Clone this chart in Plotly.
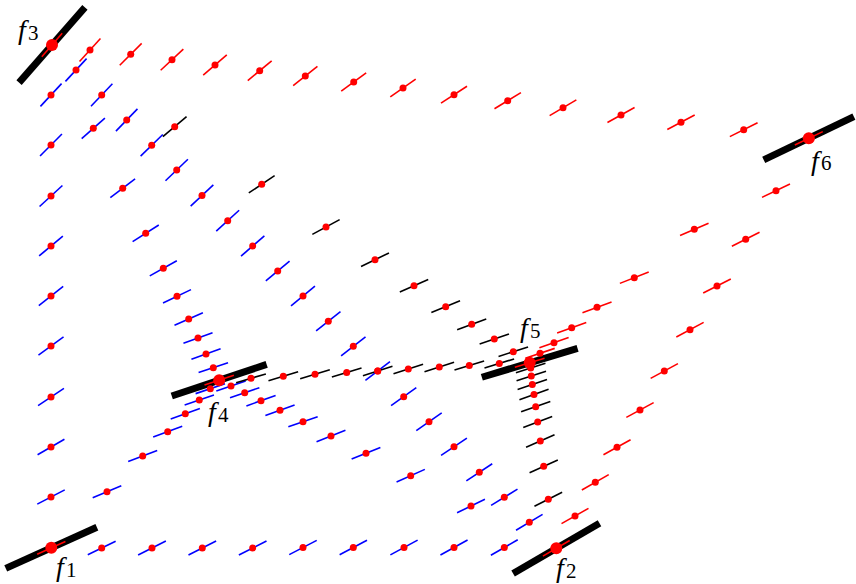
import math
import plotly.graph_objects as go

# ---------------- data (positions in plot units, angles in degrees) ----------------
BOTTOM_X = [101.7, 152, 202.3, 252.7, 303, 353.3, 404, 454, 504.3]
BOTTOM_Y = [548, 548, 548, 548, 547.5, 547.5, 547.5, 547.5, 547.5]
BOTTOM_A = [26, 26.5, 27, 27, 27.5, 28, 28.5, 29, 30]

LEFT_X = [51, 51, 51, 51, 51, 51, 51, 51, 51]
LEFT_Y = [497, 447, 397, 346, 296, 246, 196, 145, 95]
LEFT_A = [27.5, 30, 33.5, 36, 38, 40, 42.5, 45, 47]

TOP_X = [90, 130.7, 172, 215, 259.7, 305.3, 353.7, 403, 454, 507.7, 563, 621, 681, 743.7]
TOP_Y = [50, 54.3, 59.7, 65, 70.7, 76, 82, 88, 94.7, 100.7, 107.7, 115, 122.3, 129.7]
TOP_A = [47.5, 45, 43, 40.5, 39.5, 38.5, 36.5, 35, 33, 31.5, 30.5, 29, 28, 26.5]

RIGHT_OUT_X = [776, 745.7, 717, 690, 664.3, 640, 617, 595.3, 575]
RIGHT_OUT_Y = [190.7, 239.3, 286, 329.7, 371, 410, 447.3, 482.3, 516]
RIGHT_OUT_A = [25.5, 26.8, 27.1, 28.3, 28.3, 28.3, 29, 29.9, 29.5]

RIGHT_IN_X = [694.3, 634.3, 597, 571.7, 554, 540]
RIGHT_IN_Y = [229.3, 277.7, 307.3, 327.7, 342.7, 353.3]
RIGHT_IN_A = [23.2, 21.5, 20.2, 20, 19.5, 18.5]

BLACK_ROW_X = [251, 283.3, 315, 346.7, 377.7, 408.3, 439.3, 469.3, 499.3]
BLACK_ROW_Y = [378.3, 376.2, 374.3, 372.5, 371, 369, 367, 365.5, 363.5]
BLACK_ROW_A = [16.5, 17, 17, 17, 17.5, 17.5, 17.5, 17.2, 17.2]

BLACK_DIAG_X = [174.7, 261.7, 326, 375, 414, 445.7, 471.7, 494.3, 513.3]
BLACK_DIAG_Y = [126.7, 184.3, 227, 259.7, 285.7, 306.7, 324.3, 339, 351.7]
BLACK_DIAG_A = [40.2, 33.7, 28.3, 25.8, 23.6, 22.2, 20.2, 18.8, 17.8]

BLACK_COL_X = [530.7, 531.3, 532.3, 534, 535.7, 537.7, 540.3, 543.7, 548.3]
BLACK_COL_Y = [368, 376, 384.5, 394.5, 406.7, 422, 441, 466.3, 499.3]
BLACK_COL_A = [17.5, 18, 18.5, 20, 19.5, 21, 23.4, 24.4, 26.8]

BLUE_DIAG_X = [76, 101.7, 126.7, 151.7, 176.7, 202, 227.7, 252.7, 277.7, 303,
               328.3, 353.3, 377.7, 403.7, 429, 454, 479.3, 504.3, 529.3]
BLUE_DIAG_Y = [70, 95, 120, 145.3, 170, 195.5, 220.7, 246, 271, 296,
               321.3, 346.3, 371, 396.7, 421.7, 446.7, 472.3, 497.3, 522.3]
BLUE_DIAG_A = [47, 46.3, 46, 44.2, 43.7, 43, 42.4, 41.1, 40, 39.5,
               38.2, 38, 37.6, 35.5, 35, 33.7, 33.3, 31.7, 31]

BLUE_F3F4_X = [93.3, 122.7, 145.7, 163.3, 177, 188.7, 198, 206, 213.3]
BLUE_F3F4_Y = [128.3, 188.3, 233.3, 268.3, 296.3, 319, 338, 354, 367.7]
BLUE_F3F4_A = [41.5, 37, 32.5, 29.3, 25.5, 23.7, 20.2, 19.8, 18.3]

BLUE_F1F4_X = [107, 142.7, 167.7, 185.3, 199.3, 210.3]
BLUE_F1F4_Y = [491.7, 456, 431.7, 413.7, 400, 388.7]
BLUE_F1F4_A = [22.7, 20.8, 20.4, 19.6, 19, 18.5]

BLUE_F4F2_X = [231, 244.7, 261, 280, 303, 331, 366, 410.7, 471]
BLUE_F4F2_Y = [386, 392.7, 400.7, 410.3, 421.7, 436, 453.3, 475.7, 506]
BLUE_F4F2_A = [18.9, 19, 19.6, 19.6, 19, 21.3, 22, 24.1, 26]

F_NAMES = ["1", "2", "3", "4", "5", "6"]
F_X = [51.3, 556.3, 52, 219.2, 529.7, 808.8]
F_Y = [547.8, 548.3, 45, 380.2, 362.8, 138.3]
F_A = [24.3, 30.2, 48.8, 18.4, 16.8, 25.6]
# centres of the subscript digits of the labels
LABEL_X = [71, 571.5, 33.5, 223, 535, 826.5]
LABEL_Y = [569.5, 570.5, 32.5, 414.5, 330.5, 163]

SMALL_HALF = 15.5
BIG_HALF = 50

W, H = 856, 584
SERIF = "Liberation Serif, Times New Roman, DejaVu Serif, serif"


def seg_xy(xs, ys, angs, half):
    sx, sy = [], []
    for x, y, a in zip(xs, ys, angs):
        c, s = math.cos(math.radians(a)), math.sin(math.radians(a))
        sx += [x - half * c, x + half * c, None]
        sy += [y + half * s, y - half * s, None]
    return sx, sy


series = [
    (BOTTOM_X, BOTTOM_Y, BOTTOM_A, "#0000ff"),
    (LEFT_X, LEFT_Y, LEFT_A, "#0000ff"),
    (BLUE_DIAG_X, BLUE_DIAG_Y, BLUE_DIAG_A, "#0000ff"),
    (BLUE_F3F4_X, BLUE_F3F4_Y, BLUE_F3F4_A, "#0000ff"),
    (BLUE_F1F4_X, BLUE_F1F4_Y, BLUE_F1F4_A, "#0000ff"),
    (BLUE_F4F2_X, BLUE_F4F2_Y, BLUE_F4F2_A, "#0000ff"),
    (BLACK_ROW_X, BLACK_ROW_Y, BLACK_ROW_A, "#000000"),
    (BLACK_DIAG_X, BLACK_DIAG_Y, BLACK_DIAG_A, "#000000"),
    (BLACK_COL_X, BLACK_COL_Y, BLACK_COL_A, "#000000"),
    (TOP_X, TOP_Y, TOP_A, "#ff0000"),
    (RIGHT_OUT_X, RIGHT_OUT_Y, RIGHT_OUT_A, "#ff0000"),
    (RIGHT_IN_X, RIGHT_IN_Y, RIGHT_IN_A, "#ff0000"),
]

fig = go.Figure()

# thick frame lines at the singular points
bx, by = seg_xy(F_X, F_Y, F_A, BIG_HALF)
fig.add_trace(go.Scatter(x=bx, y=by, mode="lines",
                         line=dict(color="#000000", width=7), hoverinfo="skip"))

for xs, ys, angs, col in series:
    sx, sy = seg_xy(xs, ys, angs, SMALL_HALF)
    fig.add_trace(go.Scatter(x=sx, y=sy, mode="lines",
                             line=dict(color=col, width=1.6), hoverinfo="skip"))

for xs, ys, angs, col in series:
    fig.add_trace(go.Scatter(x=xs, y=ys, mode="markers",
                             marker=dict(color="#ff0000", size=7, line=dict(width=0)),
                             hoverinfo="skip"))

# red glyph on top of the thick lines
rx, ry = seg_xy(F_X, F_Y, F_A, SMALL_HALF)
fig.add_trace(go.Scatter(x=rx, y=ry, mode="lines",
                         line=dict(color="#ff0000", width=1.6), hoverinfo="skip"))
fig.add_trace(go.Scatter(x=F_X, y=F_Y, mode="markers",
                         marker=dict(color="#ff0000", size=12, line=dict(width=0)),
                         hoverinfo="skip"))

for name, lx, ly in zip(F_NAMES, LABEL_X, LABEL_Y):
    fig.add_annotation(x=lx, y=ly, xref="x", yref="y", showarrow=False,
                       xshift=-10, yshift=3,
                       text="<i>f</i>",
                       font=dict(family=SERIF, size=28, color="#000000"))
    fig.add_annotation(x=lx, y=ly, xref="x", yref="y", showarrow=False,
                       text=name,
                       font=dict(family=SERIF, size=21, color="#000000"))

fig.update_layout(
    width=W, height=H, showlegend=False,
    margin=dict(l=0, r=0, t=0, b=0),
    paper_bgcolor="white", plot_bgcolor="white",
    xaxis=dict(range=[0, W], visible=False, fixedrange=True),
    yaxis=dict(range=[H, 0], visible=False, fixedrange=True),
)

fig.write_html("out.html",
               config={"displayModeBar": False, "staticPlot": True},
               post_script="document.body.style.margin='0px';document.body.style.padding='0px';")
